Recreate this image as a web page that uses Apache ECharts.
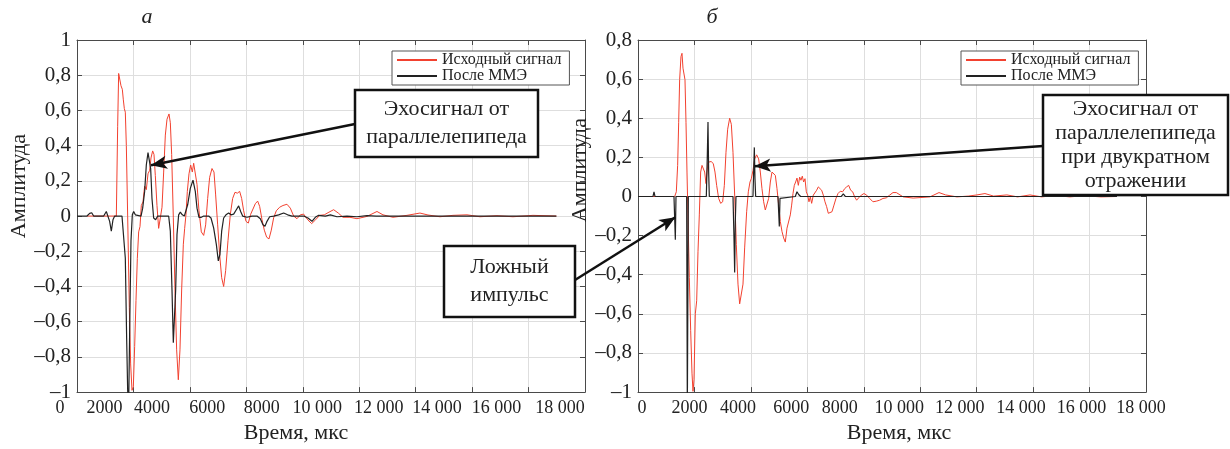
<!DOCTYPE html>
<html lang="ru">
<head>
<meta charset="UTF-8">
<title>Эхосигналы</title>
<script src="https://cdn.jsdelivr.net/npm/echarts@6/dist/echarts.min.js"></script>
<style>
  html, body { margin: 0; padding: 0; background: #fff; }
  #chart { width: 1230px; height: 449px; }
</style>
</head>
<body>
<div id="chart"></div>
<script>
// подписи оси времени, мкс
const xTickLabels = ['0', '2000', '4000', '6000', '8000', '10 000', '12 000', '14 000', '16 000', '18 000'];
const legendNames = ['Исходный сигнал', 'После ММЭ'];

// а) исходный сигнал
const aRawT = [354, 1394, 1441, 1476, 1512, 1559, 1606, 1642, 1677, 1712, 1748, 1795, 1854, 1901, 1949, 1996, 2043, 2090, 2138, 2185,
  2232, 2279, 2338, 2397, 2456, 2516, 2575, 2622, 2681, 2728, 2775, 2834, 2893, 2953, 3012, 3071, 3130, 3189, 3260, 3307,
  3354, 3413, 3472, 3531, 3590, 3649, 3708, 3768, 3815, 3862, 3909, 3968, 4027, 4086, 4134, 4193, 4252, 4322, 4405, 4488,
  4559, 4630, 4700, 4783, 4854, 4913, 4984, 5055, 5126, 5196, 5267, 5350, 5433, 5515, 5598, 5681, 5763, 5834, 5905, 5988,
  6070, 6153, 6236, 6318, 6401, 6472, 6555, 6637, 6720, 6803, 6885, 6968, 7062, 7180, 7299, 7440, 7558, 7677, 7795, 7913,
  8031, 8173, 8314, 8456, 8598, 8763, 8928, 9094, 9259, 9424, 9566, 9672, 9920, 10274, 10629, 10841, 11196, 11692, 12152, 12436,
  12861, 13322, 13818, 14278, 14881, 15447, 16156, 16986];
const aRawV = [0, 0, 0.51, 0.81, 0.80, 0.74, 0.72, 0.66, 0.61, 0.59, 0.40, 0, -0.52, -0.84, -0.99, -0.97, -0.74, -0.48, -0.24, -0.09,
  -0.06, 0.06, 0.08, 0.17, 0.15, 0.24, 0.26, 0.33, 0.37, 0.35, 0.23, 0.06, -0.07, -0.06, 0.05, 0.25, 0.46, 0.55, 0.58, 0.53,
  0.35, -0.01, -0.42, -0.76, -0.93, -0.76, -0.42, -0.16, -0.07, 0.01, 0.14, 0.24, 0.29, 0.25, 0.30, 0.29, 0.18, 0.03, -0.09, -0.11,
  -0.05, 0.10, 0.22, 0.27, 0.25, 0.12, -0.05, -0.22, -0.35, -0.40, -0.31, -0.14, 0.01, 0.10, 0.135, 0.13, 0.14, 0.10, 0.03, -0.03,
  -0.04, 0.01, 0.04, 0.07, 0.085, 0.055, -0.02, -0.08, -0.12, -0.13, -0.08, -0.01, 0.03, 0.05, 0.06, 0.067, 0.045, 0, -0.015, 0.007,
  0.011, -0.021, -0.043, -0.021, 0.004, 0.007, 0.022, 0.036, 0.017, -0.007, -0.007, -0.007, -0.015, -0.002, 0.026, 0.007, -0.007, 0.004, 0.017, 0.006,
  -0.004, 0.004, 0.007, -0.004, 0.002, -0.004, 0.004, 0];

// а) после ММЭ
const aMmeT = [0, 354, 449, 520, 590, 945, 1039, 1098, 1157, 1216, 1275, 1335, 1594, 1653, 1712, 1760, 1795, 1831, 1866, 1913,
  1960, 2008, 2067, 2126, 2268, 2327, 2397, 2456, 2516, 2563, 2610, 2657, 2716, 2787, 2858, 3248, 3307, 3366, 3413, 3449,
  3496, 3543, 3602, 3661, 3732, 3803, 3921, 4015, 4110, 4193, 4252, 4322, 4405, 4488, 4665, 4748, 4842, 4937, 5007, 5066,
  5126, 5196, 5279, 5373, 5456, 5551, 5645, 5728, 5799, 5870, 6023, 6200, 6377, 6496, 6590, 6661, 6732, 6826, 6968, 7145,
  7322, 7464, 7617, 8031, 8184, 8326, 8444, 8562, 8798, 8976, 9212, 9566, 9920, 10274, 10600, 16986];
const aMmeV = [0, 0, 0.015, 0.019, 0, 0, 0.026, 0.03, -0.03, -0.086, -0.021, 0, 0, -0.011, -0.24, -0.70, -0.99, -1.08, -0.65, -0.14,
  0.007, 0.026, 0.007, 0, 0, 0.045, 0.14, 0.29, 0.36, 0.37, 0.27, 0.10, -0.011, -0.021, 0, 0, -0.086, -0.42, -0.72, -0.73,
  -0.42, -0.105, 0.007, 0.022, 0.007, 0, 0.064, 0.157, 0.204, 0.139, 0.045, -0.007, -0.007, 0, 0, -0.011, -0.067, -0.161, -0.255, -0.217,
  -0.086, -0.011, 0.007, 0.017, 0.007, 0.011, 0.036, 0.058, 0.026, 0, -0.007, 0, 0, -0.015, -0.049, -0.058, -0.03, -0.004, 0, 0.007,
  0.017, 0.007, 0, 0, -0.011, -0.03, -0.007, 0.004, 0, 0.007, -0.004, 0, -0.004, 0.002, 0, 0];

// б) исходный сигнал
const bRawT = [0, 1299, 1358, 1405, 1441, 1476, 1523, 1559, 1594, 1630, 1665, 1701, 1736, 1772, 1819, 1866, 1913, 1949, 1984, 2031,
  2079, 2126, 2173, 2220, 2268, 2315, 2362, 2409, 2445, 2480, 2539, 2598, 2669, 2728, 2787, 2858, 2929, 3000, 3059, 3118,
  3177, 3248, 3307, 3366, 3425, 3484, 3543, 3602, 3661, 3720, 3779, 3850, 3909, 3968, 4015, 4074, 4134, 4204, 4275, 4334,
  4393, 4452, 4511, 4570, 4629, 4689, 4748, 4807, 4866, 4925, 4984, 5043, 5102, 5161, 5220, 5279, 5338, 5397, 5444, 5492,
  5539, 5586, 5633, 5681, 5728, 5775, 5822, 5869, 5917, 5964, 6011, 6058, 6106, 6153, 6212, 6271, 6330, 6389, 6448, 6507,
  6566, 6625, 6684, 6743, 6803, 6873, 6944, 7015, 7086, 7169, 7251, 7322, 7393, 7464, 7535, 7606, 7677, 7747, 7818, 7913,
  8007, 8102, 8208, 8326, 8444, 8562, 8680, 8798, 8917, 9035, 9105, 9153, 9395, 9750, 10345, 10665, 10900, 11300, 11700, 12010,
  12294, 12600, 13072, 13450, 13889, 14300, 14800, 15300, 15800, 16400, 16970];
const bRawV = [0, 0, 0.024, 0.159, 0.377, 0.597, 0.715, 0.732, 0.656, 0.661, 0.597, 0.377, 0.125, -0.111, -0.415, -0.684, -0.903, -0.996, -0.937, -0.600,
  -0.533, -0.280, -0.094, 0.125, 0.159, 0.150, 0.125, 0.066, 0.125, 0.175, 0.184, 0.179, 0.167, 0.125, 0.057, -0.010, -0.035, -0.027, 0.057, 0.226,
  0.344, 0.400, 0.369, 0.226, 0.007, -0.246, -0.448, -0.549, -0.558, -0.448, -0.263, -0.078, 0.024, 0.074, 0.091, 0.133, 0.192, 0.213, 0.192, 0.125,
  0.040, -0.027, -0.069, -0.069, -0.010, 0.074, 0.125, 0.128, 0.108, 0.040, -0.044, -0.128, -0.179, -0.212, -0.233, -0.162, -0.153, -0.094, -0.044, 0.015,
  0.057, 0.074, 0.094, 0.057, 0.099, 0.083, 0.104, 0.074, 0.091, 0.024, 0.007, -0.027, -0.002, -0.035, 0.007, -0.002, 0.032, 0.049, 0.057, 0.032,
  0.007, -0.027, -0.052, -0.086, -0.094, -0.078, -0.044, -0.010, 0.015, 0.027, 0.024, 0.040, 0.049, 0.057, 0.032, 0.024, -0.002, -0.019, -0.007, 0.007,
  0.015, 0.007, -0.010, -0.027, -0.024, -0.019, -0.010, -0.007, 0.007, 0.020, 0.027, 0.02, -0.002, -0.008, -0.002, 0.020, 0.008, -0.002, 0.002, 0.008,
  0.015, 0.002, 0.008, -0.002, 0.008, -0.002, 0.005, -0.002, 0.004, -0.002, 0];

// б) после ММЭ
const bMmeT = [0, 531, 567, 602, 1275, 1299, 1323, 1346, 1724, 1748, 1783, 2421, 2456, 2480, 2504, 2527, 3366, 3401, 3425, 3448,
  3472, 4074, 4098, 4122, 4145, 4169, 4960, 4984, 5007, 5031, 5055, 5574, 5633, 5692, 5763, 6496, 6555, 6614, 7204, 7275,
  7346, 8149, 8208, 8267, 16970];
const bMmeV = [0, 0, 0.024, 0, 0, -0.111, -0.221, 0, 0, -1.1, 0, 0, 0.209, 0.381, 0.125, 0, 0, -0.212, -0.389, -0.128,
  0, 0, 0.125, 0.251, 0.091, 0, 0, -0.078, -0.153, -0.010, 0, 0, 0.024, 0.010, 0, 0, -0.007, 0, 0, 0.013,
  0, 0, -0.007, 0, 0];

const FONT = "'Liberation Serif', 'Times New Roman', serif";
const AXIS_COLOR = '#4a4a4a';
const GRID_COLOR = '#dedede';
const TEXT_COLOR = '#222';
const RED = '#f2412f';
const BLACK = '#222';

// сдвиг подписей оси X, как в исходном рисунке
const labelShiftA = [-17, -29, -38, -39, -41, -42, -37, -35, -32, -25];
const labelShiftB = [4, -5, -13, -16, -24, -21, -17, -12, -8, -5];

const zip = (t, v) => t.map((x, i) => [x, v[i]]);
const shiftPad = (s) => (s < 0 ? [0, -2 * s, 0, 0] : [0, 0, 0, 2 * s]);

function fmtY(v) {
  const r = Math.round(v * 10) / 10;
  if (r === 0) return '0';
  return (r < 0 ? '–' : '') + String(Math.abs(r)).replace('.', ',');
}

const lineStyle = { color: AXIS_COLOR, width: 1 };

function bottomX(grid, shifts, nameShift) {
  const rich = {};
  shifts.forEach((s, i) => { rich['s' + i] = { padding: shiftPad(s) }; });
  return {
    type: 'value', gridIndex: grid, min: 0, max: 18000, interval: 2000, position: 'bottom',
    name: 'Время, мкс', nameLocation: 'middle', nameGap: 29,
    nameTextStyle: { fontFamily: FONT, fontSize: 22, color: TEXT_COLOR, padding: shiftPad(nameShift) },
    axisLine: { show: true, onZero: false, lineStyle },
    axisTick: { show: true, inside: true, length: 5, lineStyle },
    axisLabel: {
      interval: 0, margin: 7, fontFamily: FONT, fontSize: 18, color: TEXT_COLOR, rich,
      formatter: (v) => { const i = Math.round(v / 2000); return '{s' + i + '|' + xTickLabels[i] + '}'; }
    },
    splitLine: { show: true, lineStyle: { color: GRID_COLOR, width: 1 } }
  };
}

function topX(grid) {
  return {
    type: 'value', gridIndex: grid, min: 0, max: 18000, interval: 2000, position: 'top',
    axisLine: { show: true, onZero: false, lineStyle },
    axisTick: { show: true, inside: true, length: 5, lineStyle },
    axisLabel: { show: false }, splitLine: { show: false }
  };
}

function leftY(grid, max, nameGap, nameLift) {
  return {
    type: 'value', gridIndex: grid, min: -1, max, interval: 0.2, position: 'left',
    name: 'Амплитуда', nameLocation: 'middle', nameGap, nameRotate: 90,
    nameTextStyle: { fontFamily: FONT, fontSize: 22, color: TEXT_COLOR, padding: [0, 0, 0, 2 * nameLift] },
    axisLine: { show: true, onZero: false, lineStyle },
    axisTick: { show: true, inside: true, length: 5, lineStyle },
    axisLabel: { margin: 6, fontFamily: FONT, fontSize: 21, color: TEXT_COLOR, formatter: fmtY },
    splitLine: { show: true, lineStyle: { color: GRID_COLOR, width: 1 } }
  };
}

function rightY(grid, max) {
  return {
    type: 'value', gridIndex: grid, min: -1, max, interval: 0.2, position: 'right',
    axisLine: { show: true, onZero: false, lineStyle },
    axisTick: { show: true, inside: true, length: 5, lineStyle },
    axisLabel: { show: false }, splitLine: { show: false }
  };
}

function sig(name, xi, yi, t, v, color, width) {
  return {
    name, type: 'line', xAxisIndex: xi, yAxisIndex: yi, data: zip(t, v),
    symbol: 'none', showSymbol: false, lineStyle: { color, width }, itemStyle: { color },
    emphasis: { disabled: true }
  };
}

function arrows(xi, yi, lines) {
  return {
    type: 'line', xAxisIndex: xi, yAxisIndex: yi, data: [], clip: false, silent: true,
    markLine: {
      silent: true, symbol: ['none', 'arrow'], symbolSize: [10, 16],
      lineStyle: { color: '#111', width: 2.5, type: 'solid' },
      label: { show: false }, emphasis: { disabled: true },
      data: lines
    }
  };
}

function legendAt(left) {
  return {
    data: legendNames, left, top: 51, orient: 'vertical', itemGap: 0, itemWidth: 40, itemHeight: 14,
    itemTextGap: 8, padding: [1, 8, 1, 4], backgroundColor: '#fff', borderColor: '#555', borderWidth: 1,
    selectedMode: false, itemStyle: { opacity: 0 },
    textStyle: { fontFamily: FONT, fontSize: 16, color: TEXT_COLOR, lineHeight: 14 }
  };
}

function noteBox(x, y, w, h, text, lh) {
  return [
    { type: 'rect', shape: { x, y, width: w, height: h }, style: { fill: '#fff', stroke: '#111', lineWidth: 2.5 }, z: 100 },
    { type: 'text', x: x + w / 2, y: y + h / 2, z: 101,
      style: { text, fontFamily: FONT, fontSize: 22, fill: TEXT_COLOR, align: 'center', verticalAlign: 'middle', lineHeight: lh } }
  ];
}

const chart = echarts.init(document.getElementById('chart'));
chart.setOption({
  animation: false,
  grid: [
    { left: 77, top: 40, width: 508, height: 356 },
    { left: 638, top: 40, width: 508, height: 356 }
  ],
  xAxis: [bottomX(0, labelShiftA, -35), topX(0), bottomX(1, labelShiftB, 7), topX(1)],
  yAxis: [leftY(0, 1, 47, 30), rightY(0, 1), leftY(1, 0.8, 32, 46), rightY(1, 0.8)],
  legend: [legendAt(392), legendAt(961)],
  series: [
    sig(legendNames[0], 0, 0, aRawT, aRawV, RED, 1),
    sig(legendNames[1], 0, 0, aMmeT, aMmeV, BLACK, 1.2),
    sig(legendNames[0], 2, 2, bRawT, bRawV, RED, 1),
    sig(legendNames[1], 2, 2, bMmeT, bMmeV, BLACK, 1.2),
    arrows(0, 0, [[{ x: 355, y: 124 }, { coord: [2622, 0.288] }]]),
    arrows(2, 2, [
      [{ x: 575, y: 280 }, { coord: [1323, -0.106] }],
      [{ x: 1043, y: 146 }, { coord: [4134, 0.155] }]
    ])
  ],
  graphic: [
    { type: 'text', x: 147, y: 17, z: 101,
      style: { text: 'а', fontFamily: FONT, fontSize: 22, fontStyle: 'italic', fill: TEXT_COLOR, align: 'center', verticalAlign: 'middle' } },
    { type: 'text', x: 712, y: 17, z: 101,
      style: { text: 'б', fontFamily: FONT, fontSize: 22, fontStyle: 'italic', fill: TEXT_COLOR, align: 'center', verticalAlign: 'middle' } },
    ...noteBox(355, 90, 183, 67, 'Эхосигнал от\nпараллелепипеда', 28),
    ...noteBox(444, 246, 131, 71, 'Ложный\nимпульс', 28),
    ...noteBox(1043, 95, 185, 100, 'Эхосигнал от\nпараллелепипеда\nпри двукратном\nотражении', 24)
  ]
});
</script>
</body>
</html>
